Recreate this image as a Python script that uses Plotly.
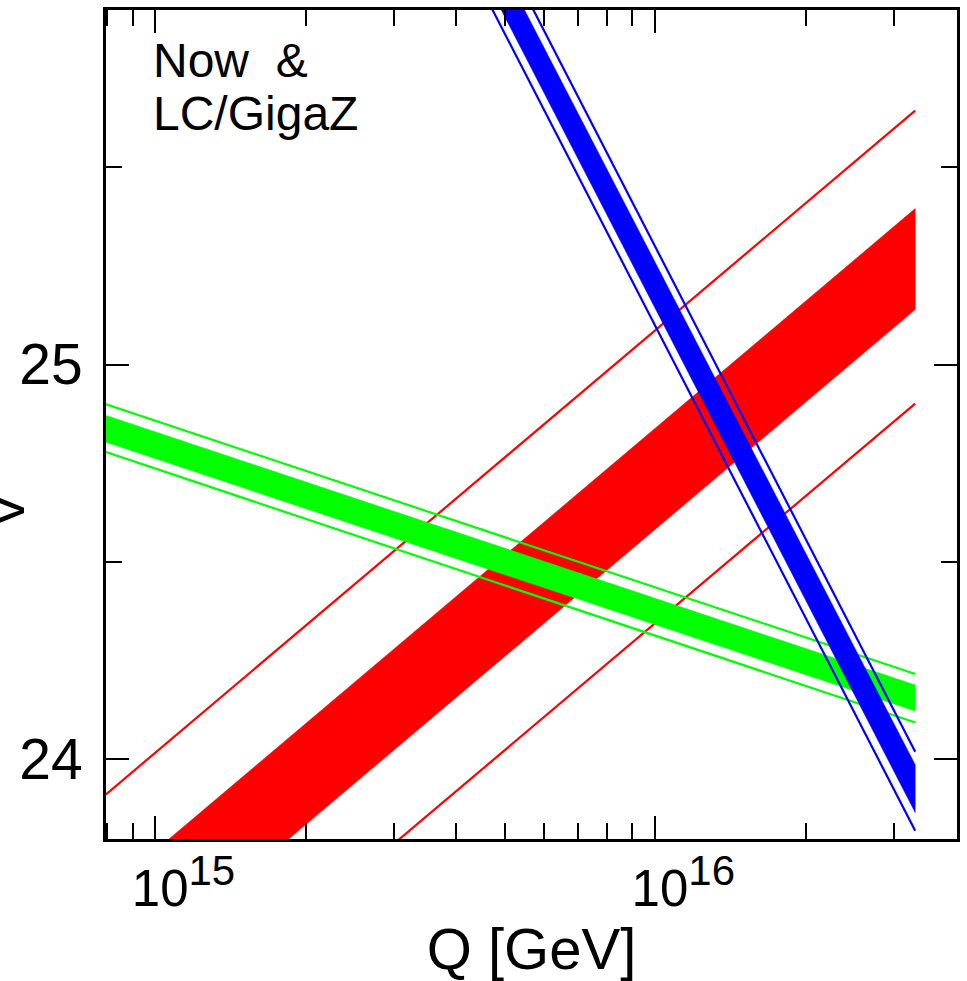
import plotly.graph_objects as go

# ---- data ----
q_gr = [7.96e14, 3.31e16]          # Q [GeV] endpoints for green / red
green_line_hi = [24.899, 24.216]
green_band_hi = [24.871, 24.188]
green_band_lo = [24.803, 24.122]
green_line_lo = [24.778, 24.093]

red_line_hi = [23.911, 25.643]
red_band_hi = [23.663, 25.395]
red_band_lo = [23.407, 25.139]
red_line_lo = [23.170, 24.901]

q_blue = [3.162e15, 3.31e16]
blue_line_hi = [26.528, 24.019]
blue_band_hi = [26.481, 23.986]
blue_band_lo = [26.369, 23.865]
blue_line_lo = [26.327, 23.819]

x_tickvals = [1e15, 1e16]
x_ticktext = ["10<sup><span style='font-size:42px'>15</span></sup>",
              "10<sup><span style='font-size:42px'>16</span></sup>"]
x_minor = [m * 10 ** e for e in (14, 15, 16) for m in range(2, 10)]
y_tickvals = [24, 25]
y_ticktext = ["24", "25"]
y_minor = [24.5, 25.5]

FONT = "Liberation Sans, Arial, Helvetica, sans-serif"

fig = go.Figure()


def add_group(q, lhi, bhi, blo, llo, color):
    fig.add_trace(go.Scatter(x=q + q[::-1], y=bhi + blo[::-1], mode="lines",
                             fill="toself", fillcolor=color,
                             line=dict(color=color, width=0.5),
                             hoverinfo="skip", showlegend=False))
    for ln in (lhi, llo):
        fig.add_trace(go.Scatter(x=q, y=ln, mode="lines",
                                 line=dict(color=color, width=2.2),
                                 hoverinfo="skip", showlegend=False))


add_group(q_gr, red_line_hi, red_band_hi, red_band_lo, red_line_lo, "#ff0000")
add_group(q_gr, green_line_hi, green_band_hi, green_band_lo, green_line_lo, "#00ff00")
add_group(q_blue, blue_line_hi, blue_band_hi, blue_band_lo, blue_line_lo, "#0000ff")

fig.update_layout(
    width=967, height=981,
    margin=dict(l=106, r=7, t=9, b=142),
    paper_bgcolor="white", plot_bgcolor="white",
    font=dict(family=FONT, color="black"),
    showlegend=False,
    xaxis=dict(
        type="log", range=[14.901, 16.6035],
        showgrid=False, zeroline=False,
        showline=True, linecolor="black", linewidth=3, mirror="allticks",
        ticks="inside", ticklen=23, tickwidth=2, tickcolor="black",
        tickmode="array", tickvals=x_tickvals, ticktext=x_ticktext,
        tickfont=dict(size=51, family=FONT, color="black"),
        ticklabelshift=28, ticklabelstandoff=3,
        minor=dict(tickmode="array", tickvals=x_minor, ticks="inside",
                   ticklen=16, tickwidth=2, tickcolor="black", showgrid=False),
        title=dict(text="Q [GeV]", font=dict(size=58, family=FONT, color="black"),
                   standoff=8),
    ),
    yaxis=dict(
        range=[23.798, 25.898],
        showgrid=False, zeroline=False,
        showline=True, linecolor="black", linewidth=3, mirror="allticks",
        ticks="inside", ticklen=23, tickwidth=2, tickcolor="black",
        tickmode="array", tickvals=y_tickvals, ticktext=y_ticktext,
        tickfont=dict(size=57, family=FONT, color="black"),
        ticklabelstandoff=9,
        minor=dict(tickmode="array", tickvals=y_minor, ticks="inside",
                   ticklen=16, tickwidth=2, tickcolor="black", showgrid=False),
    ),
)

fig.add_annotation(text="Now\u00a0\u00a0&", xref="paper", yref="paper",
                   x=0.0525, y=0.974, xanchor="left", yanchor="top",
                   showarrow=False, font=dict(size=48, family=FONT, color="black"))
fig.add_annotation(text="LC/GigaZ", xref="paper", yref="paper",
                   x=0.0525, y=0.910, xanchor="left", yanchor="top",
                   showarrow=False, font=dict(size=48, family=FONT, color="black"))
# partially visible rotated y-axis label glyph at the far left edge
fig.add_annotation(text="V", xref="paper", yref="paper",
                   x=-0.1185, y=0.396, xanchor="center", yanchor="middle",
                   textangle=-90, showarrow=False,
                   font=dict(size=55, family=FONT, color="black"))

fig.write_html("out.html",
               config={"displayModeBar": False},
               post_script="document.body.style.margin='0';"
                           "document.body.style.padding='0';"
                           "document.body.style.overflow='hidden';")
